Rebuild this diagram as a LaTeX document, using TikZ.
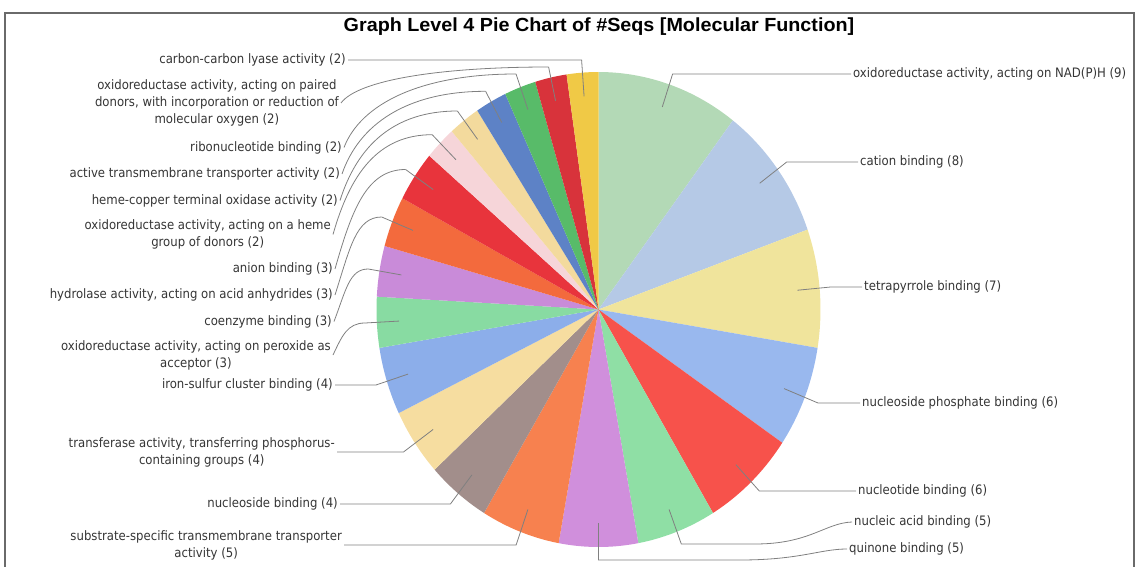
\documentclass[tikz,border=0pt]{standalone}
\usepackage{fontspec}
\setmainfont{DejaVu Sans Condensed}
\newfontfamily\titlefont[FakeStretch=1.04]{Liberation Sans}

\definecolor{labgray}{HTML}{353535}
\definecolor{linkgray}{HTML}{808080}
\definecolor{framegray}{HTML}{6A6A6A}
\definecolor{nadph}{HTML}{B3D9B6}
\definecolor{cation}{HTML}{B5C9E6}
\definecolor{tetrapyr}{HTML}{F0E49C}
\definecolor{nsphos}{HTML}{99B8EE}
\definecolor{nucleotide}{HTML}{F7524B}
\definecolor{nucacid}{HTML}{8FDFA5}
\definecolor{quinone}{HTML}{D08FDC}
\definecolor{substr}{HTML}{F7814F}
\definecolor{nucleoside}{HTML}{A28E8B}
\definecolor{transf}{HTML}{F6DDA0}
\definecolor{feS}{HTML}{8CAEEA}
\definecolor{peroxide}{HTML}{88DBA2}
\definecolor{coenzyme}{HTML}{C98BD9}
\definecolor{hydrolase}{HTML}{F36A3D}
\definecolor{anion}{HTML}{E8343C}
\definecolor{hemegrp}{HTML}{F6D5D9}
\definecolor{hemecu}{HTML}{F3DA9D}
\definecolor{active}{HTML}{5D82C6}
\definecolor{ribo}{HTML}{58BB69}
\definecolor{paired}{HTML}{D8333B}
\definecolor{cclyase}{HTML}{F0C946}

\newcommand{\pierx}{222}
\newcommand{\piery}{237.5}
\newcommand{\perseq}{4.137931}

\tikzset{lab/.style={text=labgray, inner sep=2pt, align=center,
                     font=\fontsize{13}{17}\selectfont},
         lablink/.style={draw=linkgray, line width=.8pt}}

\begin{document}
\begin{tikzpicture}[x=1pt,y=-1pt]
\useasboundingbox (0,0) rectangle (1138,567);
\draw[framegray, line width=1.2pt] (5,567) -- (5,13) -- (1134,13) -- (1134,567);

\node (title) at (599,32) [anchor=base] {\titlefont\bfseries\fontsize{19}{22}\selectfont Graph Level 4 Pie Chart of \#Seqs [Molecular Function]};

          %%  the slices, clockwise from the top %%
\coordinate (c) at (598.5,309.5);
\foreach \s/\e/\col [count=\i] in {0/9/nadph, 9/17/cation, 17/24/tetrapyr, 24/30/nsphos,
    30/36/nucleotide, 36/41/nucacid, 41/46/quinone, 46/51/substr, 51/55/nucleoside,
    55/59/transf, 59/63/feS, 63/66/peroxide, 66/69/coenzyme, 69/72/hydrolase,
    72/75/anion, 75/77/hemegrp, 77/79/hemecu, 79/81/active, 81/83/ribo,
    83/85/paired, 85/87/cclyase}
{ \pgfmathsetmacro{\a}{-90+\s*\perseq}
  \pgfmathsetmacro{\b}{-90+\e*\perseq}
  \pgfmathsetmacro{\m}{(\a+\b)/2}
  \fill[\col] (c) -- plot[domain=\a:\b, samples=30, variable=\t]
        ({598.5+\pierx*cos(\t)},{309.5+\piery*sin(\t)}) -- cycle;
  \coordinate (s\i) at ({598.5+0.9*\pierx*cos(\m)},{309.5+0.9*\piery*sin(\m)});}

          %%  right labels %%
\node (l1) at (851,74)  [lab, anchor=west] {oxidoreductase activity, acting on NAD(P)H (9)};
\node (l2) at (858,162) [lab, anchor=west] {cation binding (8)};
\node (l3) at (862,287) [lab, anchor=west] {tetrapyrrole binding (7)};
\node (l4) at (860,403) [lab, anchor=west] {nucleoside phosphate binding (6)};
\node (l5) at (856,491) [lab, anchor=west] {nucleotide binding (6)};
\node (l6) at (852,522) [lab, anchor=west] {nucleic acid binding (5)};
\node (l7) at (847,549) [lab, anchor=west] {quinone binding (5)};

          %%  left labels %%
\node (l8)  at (344,545)   [lab, anchor=east] {substrate-specific transmembrane transporter\\activity (5)};
\node (l9)  at (340,504)   [lab, anchor=east] {nucleoside binding (4)};
\node (l10) at (337,452)   [lab, anchor=east] {transferase activity, transferring phosphorus-\\containing groups (4)};
\node (l11) at (335,385)   [lab, anchor=east] {iron-sulfur cluster binding (4)};
\node (l12) at (333,355)   [lab, anchor=east] {oxidoreductase activity, acting on peroxide as\\acceptor (3)};
\node (l13) at (334,321.5) [lab, anchor=east] {coenzyme binding (3)};
\node (l14) at (335,295)   [lab, anchor=east] {hydrolase activity, acting on acid anhydrides (3)};
\node (l15) at (335,269)   [lab, anchor=east] {anion binding (3)};
\node (l16) at (333,234.5) [lab, anchor=east] {oxidoreductase activity, acting on a heme\\group of donors (2)};
\node (l17) at (340,200.5) [lab, anchor=east] {heme-copper terminal oxidase activity (2)};
\node (l18) at (342,174)   [lab, anchor=east] {active transmembrane transporter activity (2)};
\node (l19) at (344,147.5) [lab, anchor=east] {ribonucleotide binding (2)};
\node (l20) at (341,103)   [lab, anchor=east] {oxidoreductase activity, acting on paired\\donors, with incorporation or reduction of\\molecular oxygen (2)};
\node (l21) at (348,60)    [lab, anchor=east] {carbon-carbon lyase activity (2)};

          %%  elbows just outside the rim %%
\coordinate (e1) at (672.6,74);   \coordinate (e2) at (786.7,162);
\coordinate (e3) at (830.7,287);  \coordinate (e4) at (818,403);
\coordinate (e5) at (759.3,491);  \coordinate (e6) at (681.3,544);
\coordinate (e7) at (598.5,560);  \coordinate (e8) at (516.1,545);
\coordinate (e9) at (450.4,504);  \coordinate (e10) at (403.5,452);
\coordinate (e11) at (376,385);   \coordinate (e12) at (365,323);
\coordinate (e13) at (368.3,269); \coordinate (e14) at (381.7,217);
\coordinate (e15) at (405.6,169.5); \coordinate (e16) at (432.2,134.7);
\coordinate (e17) at (457.4,111); \coordinate (e18) at (485.6,91.3);
\coordinate (e19) at (516,74);    \coordinate (e20) at (548.6,67);
\coordinate (e21) at (581.6,60);

\foreach \k in {1,...,5}
{ \draw[lablink] (s\k) to (e\k) to (l\k.west);}
\foreach \k in {8,...,11,21}
{ \draw[lablink] (s\k) to (e\k) to (l\k.east);}
\foreach \k in {12,...,20}
{ \draw[lablink] (s\k) to (e\k);}

\draw[lablink] (s6) to (e6) to (755,544) .. controls (810,544) and (825,523) .. (l6.west);
\draw[lablink] (s7) to (e7) to (740,560) .. controls (800,560) and (820,549) .. (l7.west);

\draw[lablink] (l12.east) .. controls (342,336) and (347.4,323) .. (e12);
\draw[lablink] (l13.east) .. controls (346,290) and (349.4,269) .. (e13);
\draw[lablink] (l14.east) .. controls (350,248) and (356,217) .. (e14);
\draw[lablink] (l15.east) .. controls (352,209.3) and (366.8,169.5) .. (e15);
\draw[lablink] (l16.east) .. controls (350,174.6) and (377.6,134.7) .. (e16);
\draw[lablink] (l17.east) .. controls (357,146.8) and (392.8,111) .. (e17);
\draw[lablink] (l18.east) .. controls (359,124.4) and (406.6,91.3) .. (e18);
\draw[lablink] (l19.east) .. controls (361,103.4) and (421.4,74) .. (e19);
\draw[lablink] (l20.east) .. controls (358,80) and (440,67) .. (e20);

\end{tikzpicture}
\end{document}
